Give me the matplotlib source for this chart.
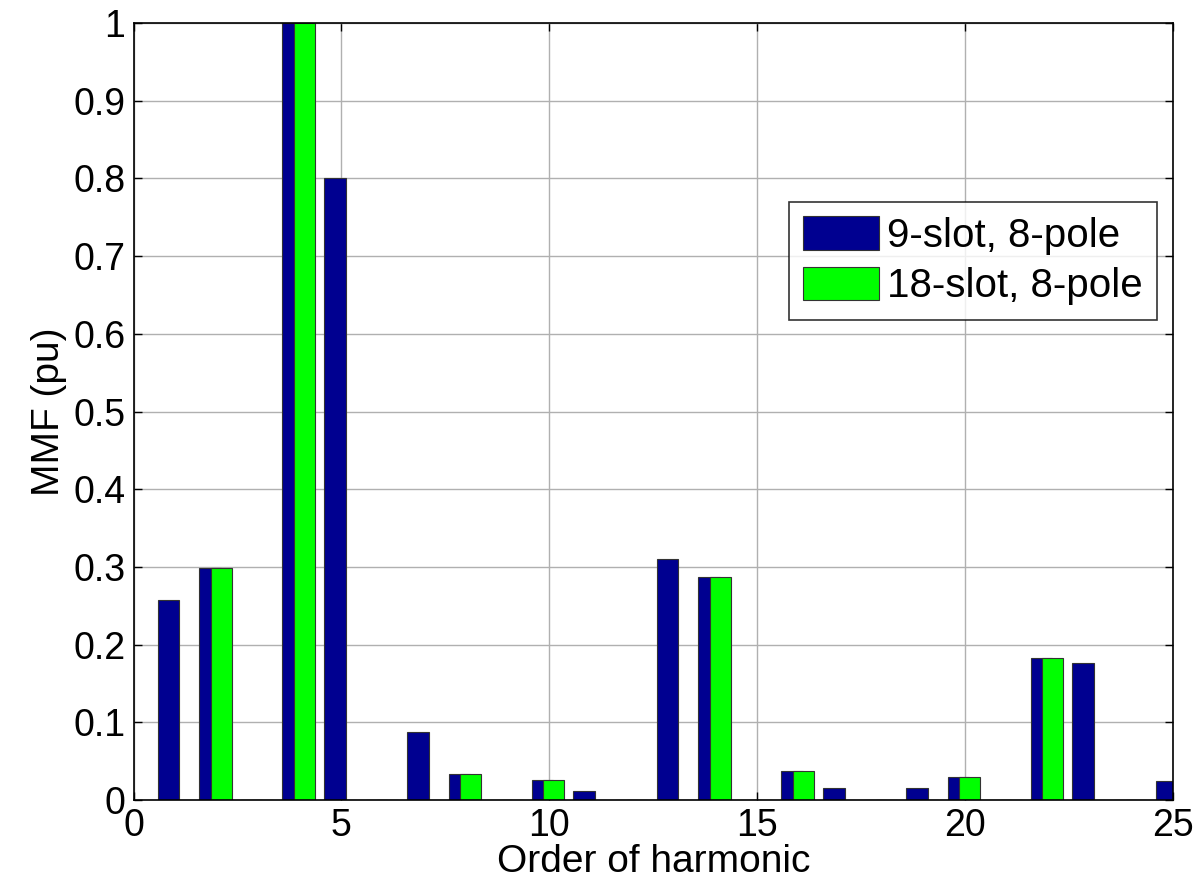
import matplotlib.pyplot as plt
import numpy as np

plt.rcParams['font.family'] = ['Liberation Sans', 'DejaVu Sans']

# Harmonic spectra (pu) of the winding MMF
harmonics = np.arange(1, 26)
mmf_9slot = [0.258, 0.298, 0, 1.0, 0.8, 0, 0.087, 0.033, 0, 0.026, 0.011, 0,
             0.31, 0.287, 0, 0.037, 0.015, 0, 0.015, 0.03, 0, 0.183, 0.176, 0, 0.024]
mmf_18slot = [0, 0.298, 0, 1.0, 0, 0, 0, 0.033, 0, 0.026, 0, 0,
              0, 0.287, 0, 0.037, 0, 0, 0, 0.03, 0, 0.183, 0, 0, 0]
labels = ['9-slot, 8-pole', '18-slot, 8-pole']

fig = plt.figure(figsize=(11.99, 8.85), dpi=100)
ax = fig.add_axes([133.5 / 1199, 1 - 800 / 885, (1173 - 133.5) / 1199, (800 - 23) / 885])

ax.bar(harmonics - 0.16, mmf_9slot, width=0.52, color='#000090',
       edgecolor='#333333', linewidth=0.8, label=labels[0], zorder=2)
ax.bar(harmonics + 0.11, mmf_18slot, width=0.5, color='#00ff00',
       edgecolor='#333333', linewidth=0.8, label=labels[1], zorder=3)

ax.set_xlim(0, 25)
ax.set_ylim(0, 1)
ax.set_xticks(np.arange(0, 26, 5))
ax.set_yticks(np.arange(0, 1.01, 0.1))
ax.set_yticklabels(['0', '0.1', '0.2', '0.3', '0.4', '0.5', '0.6', '0.7', '0.8', '0.9', '1'])
ax.grid(True, color='#b0b0b0', linewidth=1.0, zorder=0)
ax.set_axisbelow(True)
ax.tick_params(direction='in', top=True, right=True, labelsize=27, length=6, width=1, pad=6)
for s in ax.spines.values():
    s.set_linewidth(1.2)
    s.set_zorder(5)

ax.set_xlabel('Order of harmonic', fontsize=28, labelpad=0)
ax.set_ylabel('MMF (pu)', fontsize=28, labelpad=4)

leg = ax.legend(loc='upper right', bbox_to_anchor=((1157 - 133.5) / 1039.5, 1 - (202 - 23) / 777),
                fontsize=29, frameon=True, fancybox=False, edgecolor='black',
                handlelength=1.9, handleheight=0.9, borderpad=0.35, labelspacing=0.3,
                handletextpad=0.2, borderaxespad=0)
leg.get_frame().set_linewidth(1.2)

fig.savefig('out.png', dpi=100)
